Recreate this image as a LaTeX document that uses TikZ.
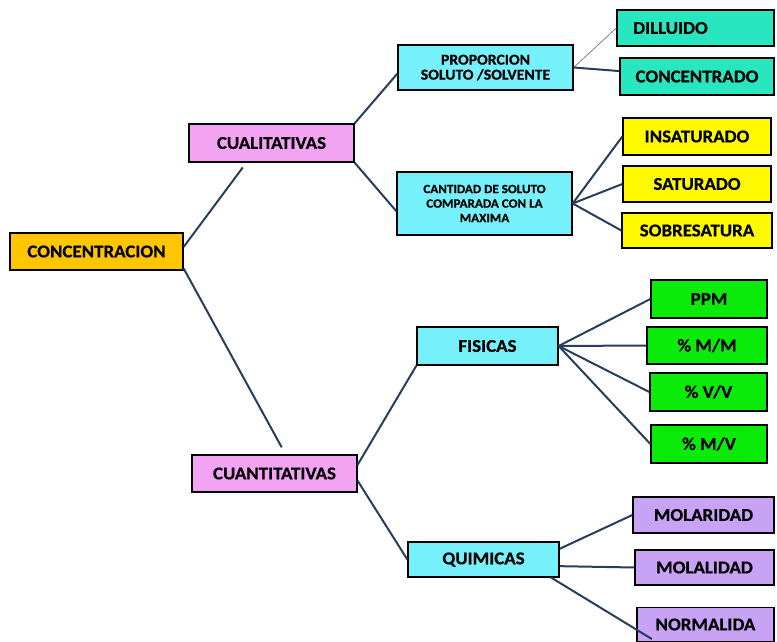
\documentclass[tikz,border=0pt]{standalone}
\usepackage{fontspec}
\setmainfont{Carlito}[FakeStretch=1.05, BoldFeatures={FakeBold=0.6}]

\definecolor{cgold}{RGB}{255,198,0}
\definecolor{cpink}{RGB}{242,164,242}
\definecolor{ccyan}{RGB}{118,240,250}
\definecolor{cteal}{RGB}{40,230,192}
\definecolor{cyell}{RGB}{255,250,0}
\definecolor{cgreen}{RGB}{10,235,10}
\definecolor{clav}{RGB}{200,162,245}
\definecolor{clink}{RGB}{40,62,92}

\tikzset{
  box/.style={shape=rectangle, draw=black, line width=1.3pt, inner sep=0pt,
              align=center, font=\bfseries\fontsize{18}{19}\selectfont},
  small/.style={font=\bfseries\fontsize{15}{15}\selectfont},
  tiny/.style={font=\bfseries\fontsize{12.5}{14.5}\selectfont},
  link/.style={draw=clink, line width=2pt},
}

\begin{document}
\begin{tikzpicture}[x=1pt, y=-1pt]
  \useasboundingbox (0,0) rectangle (777,642);

  %% root and first level
  \node[box, fill=cgold, minimum width=173, minimum height=37] (CONC)  at ( 96.5, 251.5) {CONCENTRACION};
  \node[box, fill=cpink, minimum width=165, minimum height=38] (CUAL)  at (271.5, 143.0) {CUALITATIVAS};
  \node[box, fill=cpink, minimum width=165, minimum height=37] (CUANT) at (274.5, 473.5) {CUANTITATIVAS};

  %% second level
  \node[box, small, fill=ccyan, minimum width=175, minimum height=45] (PROP)  at (485.5,  67.5) {PROPORCION\\SOLUTO /SOLVENTE};
  \node[box, tiny,  fill=ccyan, minimum width=175, minimum height=63] (CANT)  at (484.5, 203.5) {CANTIDAD DE SOLUTO\\COMPARADA CON LA\\MAXIMA};
  \node[box,        fill=ccyan, minimum width=141, minimum height=38] (FIS)   at (487.5, 346.0) {FISICAS};
  \node[box,        fill=ccyan, minimum width=151, minimum height=35] (QUIM)  at (483.5, 559.5) {QUIMICAS};

  %% leaves
  \node[box, fill=cteal, minimum width=157, minimum height=36] (DIL)   at (695.5,  28.0) {DILLUIDO\hspace*{50pt}};
  \node[box, fill=cteal, minimum width=154, minimum height=37] (CONCD) at (697.0,  76.5) {CONCENTRADO};
  \node[box, fill=cyell, minimum width=148, minimum height=37] (INSAT) at (697.0, 136.5) {INSATURADO};
  \node[box, fill=cyell, minimum width=148, minimum height=36] (SAT)   at (697.0, 184.0) {SATURADO};
  \node[box, fill=cyell, minimum width=150, minimum height=35] (SOBRE) at (697.0, 230.5) {SOBRESATURA};

  \node[box, fill=cgreen, minimum width=116, minimum height=38] (PPM) at (709.0, 299.0) {PPM};
  \node[box, fill=cgreen, minimum width=120, minimum height=37] (MM)  at (707.0, 345.5) {\% M/M};
  \node[box, fill=cgreen, minimum width=117, minimum height=38] (VV)  at (708.5, 392.0) {\% V/V};
  \node[box, fill=cgreen, minimum width=116, minimum height=38] (MV)  at (709.0, 444.0) {\% M/V};

  \node[box, fill=clav, minimum width=141, minimum height=36] (MOLAR) at (703.5, 515.0) {MOLARIDAD};
  \node[box, fill=clav, minimum width=139, minimum height=35] (MOLAL) at (704.5, 567.5) {MOLALIDAD};
  \node[box, fill=clav, minimum width=137, minimum height=34] (NORM)  at (705.5, 624.5) {NORMALIDA};

  %% connectors
  \path[link] (CONC.3)   edge[shorten >=6]  (CUAL.218);
  \path[link] (CONC.-11) edge[shorten >=8]  (CUANT.60);

  \path[link] (CUAL.north east) edge (PROP.184);
  \path[link] (CUAL.south east) edge (CANT.185);
  \path[link] (CUANT.6)         edge (FIS.south west);
  \path[link] (CUANT.-5)        edge (QUIM.west);

  \path[draw=gray, line width=0.8pt] (PROP.east) edge (DIL.west);
  \path[link] (PROP.east) edge (CONCD.176);

  \path[link] (CANT.east) edge (INSAT.west);
  \path[link] (CANT.east) edge (SAT.west);
  \path[link] (CANT.east) edge (SOBRE.west);

  \path[link] (FIS.east) edge (PPM.west);
  \path[link] (FIS.east) edge (MM.west);
  \path[link] (FIS.east) edge (VV.west);
  \path[link] (FIS.east) edge (MV.west);

  \path[link] (QUIM.8)   edge (MOLAR.west);
  \path[link] (QUIM.-5)  edge (MOLAL.west);
  \path[link] (QUIM.-15) edge[shorten >=6] (NORM.200);

\end{tikzpicture}
\end{document}
